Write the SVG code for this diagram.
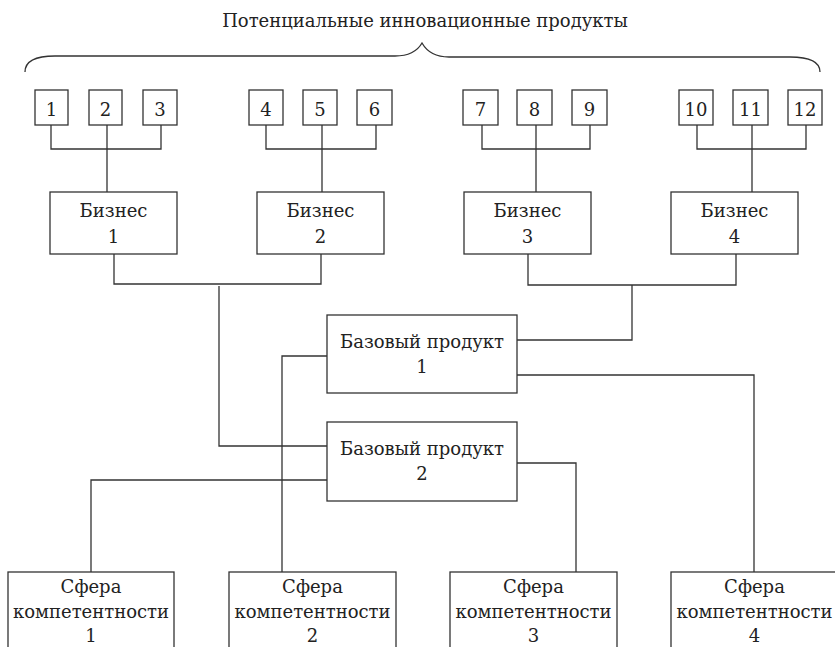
<svg xmlns="http://www.w3.org/2000/svg" width="835" height="647" viewBox="0 0 835 647">
<style>
rect{fill:#fff;stroke:#333;stroke-width:1.3}
.c{fill:none;stroke:#333;stroke-width:1.3}
text{font-family:"DejaVu Serif",serif;font-size:18px;fill:#222;text-anchor:middle}
</style>
<rect x="0" y="0" width="835" height="647" style="stroke:none"/>
<text x="425" y="27">Потенциальные инновационные продукты</text>
<g id="connectors">
<path class="c" d="M25,72 C25,62 35,56 55,56 L395,56 C410,56 418,50 422,43 C426,50 434,57 449,57 L790,57 C810,57 820,62 820,72"/>
<path class="c" d="M51,125V149H161V125M107,125V192"/>
<path class="c" d="M266,125V149H376V125M322,125V192"/>
<path class="c" d="M482,125V149H590V125M536,125V192"/>
<path class="c" d="M697,125V149H806V125M752,125V192"/>
<path class="c" d="M114,254V284H321V254M219,286V446H327"/>
<path class="c" d="M528,254V285H736V254M632,285V340H517"/>
<path class="c" d="M327,356H282V572"/>
<path class="c" d="M517,375H754V572"/>
<path class="c" d="M327,480H91V572"/>
<path class="c" d="M517,463H576V572"/>
</g>
<g id="p1"><rect x="35" y="90" width="33" height="35"/><text x="51.5" y="116">1</text></g>
<g id="p2"><rect x="89" y="90" width="33" height="35"/><text x="105.5" y="116">2</text></g>
<g id="p3"><rect x="143" y="90" width="34" height="35"/><text x="160" y="116">3</text></g>
<g id="p4"><rect x="249" y="90" width="34" height="35"/><text x="266" y="116">4</text></g>
<g id="p5"><rect x="303" y="90" width="34" height="35"/><text x="320" y="116">5</text></g>
<g id="p6"><rect x="357" y="90" width="35" height="35"/><text x="374.5" y="116">6</text></g>
<g id="p7"><rect x="463" y="90" width="35" height="35"/><text x="480.5" y="116">7</text></g>
<g id="p8"><rect x="517" y="90" width="35" height="35"/><text x="534.5" y="116">8</text></g>
<g id="p9"><rect x="572" y="90" width="35" height="35"/><text x="589.5" y="116">9</text></g>
<g id="p10"><rect x="679" y="90" width="34" height="35"/><text x="696" y="116">10</text></g>
<g id="p11"><rect x="733" y="90" width="35" height="35"/><text x="750.5" y="116">11</text></g>
<g id="p12"><rect x="788" y="90" width="34" height="35"/><text x="805" y="116">12</text></g>
<g id="b1"><rect x="50" y="192" width="127" height="62"/><text x="113.5" y="217">Бизнес</text><text x="113.5" y="243">1</text></g>
<g id="b2"><rect x="257" y="192" width="127" height="62"/><text x="320.5" y="217">Бизнес</text><text x="320.5" y="243">2</text></g>
<g id="b3"><rect x="464" y="192" width="127" height="62"/><text x="527.5" y="217">Бизнес</text><text x="527.5" y="243">3</text></g>
<g id="b4"><rect x="671" y="192" width="127" height="62"/><text x="734.5" y="217">Бизнес</text><text x="734.5" y="243">4</text></g>
<g id="bp1"><rect x="327" y="315" width="190" height="78"/><text x="422" y="348">Базовый продукт</text><text x="422" y="373">1</text></g>
<g id="bp2"><rect x="327" y="422" width="190" height="79"/><text x="422" y="455">Базовый продукт</text><text x="422" y="480">2</text></g>
<g id="s1"><rect x="8" y="572" width="166" height="90"/><text x="91" y="593">Сфера</text><text x="91" y="618">компетентности</text><text x="91" y="642">1</text></g>
<g id="s2"><rect x="229" y="572" width="167" height="90"/><text x="312.5" y="593">Сфера</text><text x="312.5" y="618">компетентности</text><text x="312.5" y="642">2</text></g>
<g id="s3"><rect x="450" y="572" width="167" height="90"/><text x="533.5" y="593">Сфера</text><text x="533.5" y="618">компетентности</text><text x="533.5" y="642">3</text></g>
<g id="s4"><rect x="671" y="572" width="167" height="90"/><text x="754.5" y="593">Сфера</text><text x="754.5" y="618">компетентности</text><text x="754.5" y="642">4</text></g>
</svg>
